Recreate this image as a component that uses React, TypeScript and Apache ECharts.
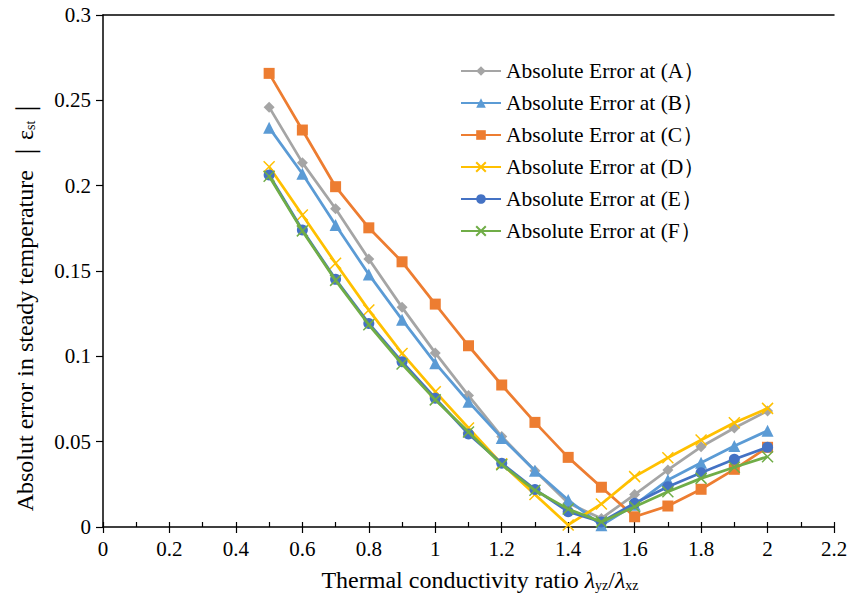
import React, { useEffect, useRef } from "react";
import * as echarts from "echarts";

const ratios = [0.5, 0.6, 0.7, 0.8, 0.9, 1.0, 1.1, 1.2, 1.3, 1.4, 1.5, 1.6, 1.7, 1.8, 1.9, 2.0];
const errA = [0.246, 0.2135, 0.1865, 0.157, 0.1287, 0.102, 0.077, 0.053, 0.033, 0.014, 0.005, 0.019, 0.0334, 0.047, 0.058, 0.068];
const errB = [0.234, 0.207, 0.177, 0.148, 0.1215, 0.096, 0.0734, 0.0522, 0.033, 0.0158, 0.001, 0.013, 0.0275, 0.0377, 0.0474, 0.0564];
const errC = [0.2658, 0.2326, 0.1994, 0.1753, 0.1554, 0.1306, 0.1062, 0.0832, 0.0613, 0.0408, 0.0233, 0.006, 0.0123, 0.0221, 0.0338, 0.0467];
const errD = [0.2111, 0.1828, 0.1545, 0.1271, 0.1017, 0.0793, 0.058, 0.037, 0.019, 0.0012, 0.0135, 0.0295, 0.0406, 0.051, 0.0611, 0.0695];
const errE = [0.2062, 0.174, 0.1451, 0.1193, 0.0968, 0.0755, 0.0545, 0.0373, 0.022, 0.009, 0.003, 0.0139, 0.0236, 0.0318, 0.0397, 0.0467];
const errF = [0.2055, 0.1735, 0.1445, 0.1185, 0.0955, 0.0745, 0.0557, 0.0365, 0.0215, 0.0105, 0.003, 0.0119, 0.0207, 0.0285, 0.035, 0.0412];

const seriesNames = [
  "Absolute Error at (A）",
  "Absolute Error at (B）",
  "Absolute Error at (C）",
  "Absolute Error at (D）",
  "Absolute Error at (E）",
  "Absolute Error at (F）",
];
const seriesColors = ["#A5A5A5", "#5B9BD5", "#ED7D31", "#FFC000", "#4472C4", "#70AD47"];
const crossPath = "path://M0,0L10,10M10,0L0,10";
const seriesSymbols = ["diamond", "triangle", "rect", crossPath, "circle", crossPath];
const seriesSymbolSizes = [11, 12, 11, 11, 11, 11];

const xTitle = "Thermal conductivity ratio {it|λ}{sub|yz}/{it|λ}{sub|xz}";
const yTitle = "Absolut error in steady temperature {bar|｜}ε{sub|st}{bar|｜}";

const FONT = "Liberation Serif";

export default function App() {
  const ref = useRef<HTMLDivElement>(null);
  useEffect(() => {
    if (!ref.current) return;
    const chart = echarts.init(ref.current, undefined, { renderer: "svg" });
    const allData = [errA, errB, errC, errD, errE, errF];
    const series = allData.map((vals, i) => {
      const isCross = seriesSymbols[i] === crossPath;
      return {
        name: seriesNames[i],
        type: "line",
        data: ratios.map((x, j) => [x, vals[j]]),
        symbol: seriesSymbols[i],
        symbolSize: seriesSymbolSizes[i],
        showAllSymbol: true,
        lineStyle: { color: seriesColors[i], width: 2.75 },
        itemStyle: isCross
          ? { color: seriesColors[i], borderColor: seriesColors[i], borderWidth: 1.5 }
          : { color: seriesColors[i], borderWidth: 0 },
        emphasis: { disabled: true },
        z: 2 + i,
      };
    });
    const subStyle = { fontFamily: FONT, fontSize: 14, color: "#000", verticalAlign: "bottom", padding: [11, 0, 0, 0] };
    chart.setOption({
      animation: false,
      textStyle: { fontFamily: FONT },
      grid: { left: 103, right: 16, top: 15, bottom: 71, outerBoundsMode: "none" },
      legend: {
        orient: "vertical",
        left: 460,
        top: 60,
        padding: 0,
        itemWidth: 40,
        itemHeight: 12,
        itemGap: 10,
        textStyle: { fontFamily: FONT, fontSize: 21.5, color: "#000", lineHeight: 22 },
        data: seriesNames,
      },
      graphic: [
        {
          type: "text",
          x: 480,
          y: 580,
          silent: true,
          style: {
            text: xTitle,
            align: "center",
            verticalAlign: "middle",
            fontFamily: FONT,
            fontSize: 24,
            fill: "#000",
            rich: {
              it: { fontFamily: FONT, fontSize: 24, fontStyle: "italic", color: "#000" },
              sub: subStyle,
            },
          },
        },
        {
          type: "text",
          x: 25,
          y: 304,
          rotation: Math.PI / 2,
          silent: true,
          style: {
            text: yTitle,
            align: "center",
            verticalAlign: "middle",
            fontFamily: FONT,
            fontSize: 24,
            fill: "#000",
            rich: {
              bar: { fontFamily: FONT, fontSize: 25, color: "#000" },
              sub: subStyle,
            },
          },
        },
      ],
      xAxis: [
        {
          type: "value",
          min: 0,
          max: 2.2,
          interval: 0.2,
          position: "bottom",
          axisLine: { show: true, onZero: false, lineStyle: { color: "#000", width: 1.5 } },
          axisTick: { show: true, inside: false, length: 6, lineStyle: { color: "#000", width: 1.2 } },
          axisLabel: {
            fontFamily: FONT,
            fontSize: 21,
            color: "#000",
            margin: 11,
            formatter: (v: number) => String(Math.round(v * 10) / 10),
          },
          splitLine: { show: false },
        },
        {
          type: "value",
          min: 0,
          max: 2.2,
          interval: 0.2,
          position: "bottom",
          axisLine: { show: false },
          axisTick: { show: true, inside: true, length: 5, lineStyle: { color: "#000", width: 1.2 } },
          minorTick: { show: true, splitNumber: 2, length: 5, lineStyle: { color: "#000", width: 1.2 } },
          axisLabel: { show: false },
          splitLine: { show: false },
        },
        {
          type: "value",
          min: 0,
          max: 2.2,
          position: "top",
          axisLine: { show: true, lineStyle: { color: "#000", width: 1.5 } },
          axisTick: { show: false },
          axisLabel: { show: false },
          splitLine: { show: false },
        },
      ],
      yAxis: {
        type: "value",
        min: 0,
        max: 0.3,
        interval: 0.05,
        axisLine: { show: true, onZero: false, lineStyle: { color: "#000", width: 1.5 } },
        axisTick: { show: true, inside: false, length: 7, lineStyle: { color: "#000", width: 1.2 } },
        axisLabel: {
          fontFamily: FONT,
          fontSize: 21,
          color: "#000",
          margin: 12,
          formatter: (v: number) => String(Math.round(v * 100) / 100),
        },
        splitLine: { show: false },
      },
      series,
    });
    return () => chart.dispose();
  }, []);
  return <div ref={ref} style={{ position: "fixed", left: 0, top: 0, width: 850, height: 598, background: "#fff" }} />;
}
